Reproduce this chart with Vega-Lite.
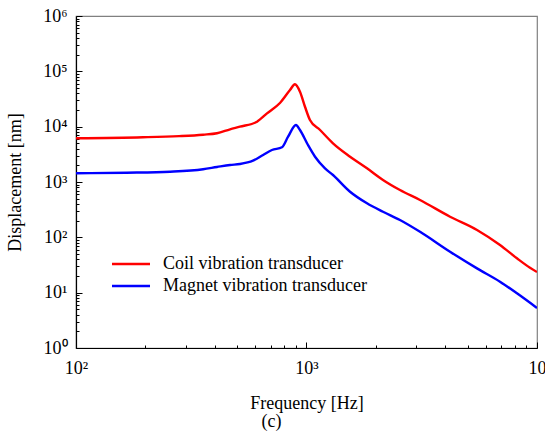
{
  "$schema": "https://vega.github.io/schema/vega-lite/v6.json",
  "width": 461,
  "height": 332,
  "autosize": {"type": "none"},
  "padding": {"left": 76, "top": 16, "right": 8, "bottom": 86},
  "background": "white",
  "config": {
    "font": "Liberation Serif",
    "view": {"stroke": "#808080", "strokeWidth": 1.2},
    "axis": {
      "grid": false,
      "domainColor": "#000000",
      "domainWidth": 1.2,
      "tickColor": "#000000",
      "tickWidth": 1,
      "labelFont": "Liberation Serif",
      "labelFontSize": 18,
      "labelColor": "#000000",
      "titleFont": "Liberation Serif",
      "titleFontSize": 18,
      "titleFontWeight": "normal",
      "titleColor": "#000000",
      "labelOverlap": false,
      "labelFlush": false,
      "labelBound": false
    },
    "legend": {
      "labelFont": "Liberation Serif",
      "labelFontSize": 18,
      "labelColor": "#000000",
      "labelLimit": 0
    }
  },
  "title": {
    "text": "(c)",
    "orient": "bottom",
    "anchor": "middle",
    "dx": -35,
    "offset": 1,
    "fontSize": 18,
    "fontWeight": "normal",
    "font": "Liberation Serif",
    "color": "#000000"
  },
  "data": {
    "values": [
      {"f": 100, "d": 6170, "series": "Coil vibration transducer"},
      {"f": 195, "d": 6430, "series": "Coil vibration transducer"},
      {"f": 280, "d": 6750, "series": "Coil vibration transducer"},
      {"f": 356, "d": 7160, "series": "Coil vibration transducer"},
      {"f": 409, "d": 7590, "series": "Coil vibration transducer"},
      {"f": 466, "d": 8960, "series": "Coil vibration transducer"},
      {"f": 514, "d": 9980, "series": "Coil vibration transducer"},
      {"f": 610, "d": 12300, "series": "Coil vibration transducer"},
      {"f": 674, "d": 17400, "series": "Coil vibration transducer"},
      {"f": 767, "d": 26800, "series": "Coil vibration transducer"},
      {"f": 848, "d": 46000, "series": "Coil vibration transducer"},
      {"f": 891, "d": 58300, "series": "Coil vibration transducer"},
      {"f": 937, "d": 42800, "series": "Coil vibration transducer"},
      {"f": 985, "d": 22900, "series": "Coil vibration transducer"},
      {"f": 1035, "d": 13200, "series": "Coil vibration transducer"},
      {"f": 1145, "d": 8700, "series": "Coil vibration transducer"},
      {"f": 1303, "d": 5000, "series": "Coil vibration transducer"},
      {"f": 1545, "d": 2870, "series": "Coil vibration transducer"},
      {"f": 1830, "d": 1770, "series": "Coil vibration transducer"},
      {"f": 2147, "d": 1090, "series": "Coil vibration transducer"},
      {"f": 2544, "d": 716, "series": "Coil vibration transducer"},
      {"f": 3108, "d": 473, "series": "Coil vibration transducer"},
      {"f": 4195, "d": 236, "series": "Coil vibration transducer"},
      {"f": 5492, "d": 136, "series": "Coil vibration transducer"},
      {"f": 6910, "d": 72.6, "series": "Coil vibration transducer"},
      {"f": 8185, "d": 41.8, "series": "Coil vibration transducer"},
      {"f": 9325, "d": 28.2, "series": "Coil vibration transducer"},
      {"f": 10000, "d": 23.6, "series": "Coil vibration transducer"},
      {"f": 100, "d": 1436, "series": "Magnet vibration transducer"},
      {"f": 166, "d": 1472, "series": "Magnet vibration transducer"},
      {"f": 256, "d": 1535, "series": "Magnet vibration transducer"},
      {"f": 356, "d": 1696, "series": "Magnet vibration transducer"},
      {"f": 409, "d": 1866, "series": "Magnet vibration transducer"},
      {"f": 466, "d": 2030, "series": "Magnet vibration transducer"},
      {"f": 514, "d": 2114, "series": "Magnet vibration transducer"},
      {"f": 586, "d": 2426, "series": "Magnet vibration transducer"},
      {"f": 648, "d": 3074, "series": "Magnet vibration transducer"},
      {"f": 708, "d": 3787, "series": "Magnet vibration transducer"},
      {"f": 783, "d": 4237, "series": "Magnet vibration transducer"},
      {"f": 832, "d": 6583, "series": "Magnet vibration transducer"},
      {"f": 900, "d": 10700, "series": "Magnet vibration transducer"},
      {"f": 937, "d": 8700, "series": "Magnet vibration transducer"},
      {"f": 1015, "d": 4660, "series": "Magnet vibration transducer"},
      {"f": 1089, "d": 2865, "series": "Magnet vibration transducer"},
      {"f": 1203, "d": 1768, "series": "Magnet vibration transducer"},
      {"f": 1303, "d": 1337, "series": "Magnet vibration transducer"},
      {"f": 1545, "d": 667, "series": "Magnet vibration transducer"},
      {"f": 1830, "d": 412, "series": "Magnet vibration transducer"},
      {"f": 2147, "d": 290, "series": "Magnet vibration transducer"},
      {"f": 2544, "d": 206, "series": "Magnet vibration transducer"},
      {"f": 3108, "d": 126, "series": "Magnet vibration transducer"},
      {"f": 4195, "d": 55, "series": "Magnet vibration transducer"},
      {"f": 5492, "d": 27.5, "series": "Magnet vibration transducer"},
      {"f": 6910, "d": 15.8, "series": "Magnet vibration transducer"},
      {"f": 8185, "d": 9.73, "series": "Magnet vibration transducer"},
      {"f": 10000, "d": 5.3, "series": "Magnet vibration transducer"}
    ]
  },
  "mark": {"type": "line", "strokeWidth": 2.4, "interpolate": "monotone", "clip": true},
  "encoding": {
    "x": {
      "field": "f",
      "type": "quantitative",
      "scale": {"type": "log", "domain": [100, 10000], "nice": false},
      "axis": {
        "title": "Frequency [Hz]",
        "titlePadding": 14,
        "labelPadding": 17,
        "values": [100, 200, 300, 400, 500, 600, 700, 800, 900, 1000, 2000, 3000, 4000, 5000, 6000, 7000, 8000, 9000, 10000],
        "labelExpr": "datum.value == 10000 ? '10' : (abs(log(datum.value)/LN10 - round(log(datum.value)/LN10)) < 0.001 ? '10' + substring('⁰¹²³⁴⁵⁶', round(log(datum.value)/LN10), round(log(datum.value)/LN10) + 1) : '')",
        "tickSize": {"condition": {"test": "abs(log(datum.value)/LN10 - round(log(datum.value)/LN10)) < 0.001", "value": -6}, "value": -3}
      }
    },
    "y": {
      "field": "d",
      "type": "quantitative",
      "scale": {"type": "log", "domain": [1, 1000000], "nice": false},
      "axis": {
        "title": "Displacement [nm]",
        "titlePadding": 18,
        "labelPadding": 15,
        "values": [1, 2, 3, 4, 5, 6, 7, 8, 9, 10, 20, 30, 40, 50, 60, 70, 80, 90, 100, 200, 300, 400, 500, 600, 700, 800, 900, 1000, 2000, 3000, 4000, 5000, 6000, 7000, 8000, 9000, 10000, 20000, 30000, 40000, 50000, 60000, 70000, 80000, 90000, 100000, 200000, 300000, 400000, 500000, 600000, 700000, 800000, 900000, 1000000],
        "labelExpr": "abs(log(datum.value)/LN10 - round(log(datum.value)/LN10)) < 0.001 ? '10' + substring('⁰¹²³⁴⁵⁶', round(log(datum.value)/LN10), round(log(datum.value)/LN10) + 1) : ''",
        "tickSize": {"condition": {"test": "abs(log(datum.value)/LN10 - round(log(datum.value)/LN10)) < 0.001", "value": -6}, "value": -3}
      }
    },
    "color": {
      "field": "series",
      "type": "nominal",
      "scale": {"domain": ["Coil vibration transducer", "Magnet vibration transducer"], "range": ["#ff0000", "#0000ff"]},
      "legend": {
        "title": null,
        "orient": "none",
        "legendX": 46,
        "legendY": 239,
        "padding": 0,
        "symbolType": "M-3.8,0H3.8",
        "symbolSize": 100,
        "symbolStrokeWidth": 2.4,
        "labelOffset": 23,
        "rowPadding": 4
      }
    }
  }
}
